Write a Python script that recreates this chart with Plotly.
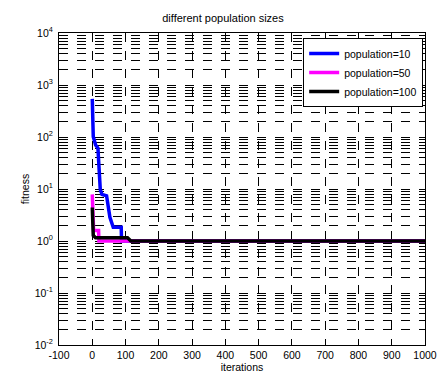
import plotly.graph_objects as go

# ---- data ----
iter_p10 = [0, 3, 10, 17, 24, 29, 43, 53, 63, 87, 88, 1000]
fit_p10 = [540, 101, 70, 61, 9.8, 7.9, 7.4, 2.85, 1.84, 1.84, 1.0, 1.0]

iter_p50 = [0, 2, 4, 10, 19, 20, 1000]
fit_p50 = [7.9, 4.0, 1.6, 1.6, 1.6, 1.0, 1.0]

iter_p100 = [0, 3, 10, 106, 116, 1000]
fit_p100 = [4.4, 1.28, 1.15, 1.15, 1.0, 1.0]

series_names = ["population=10", "population=50", "population=100"]
series_colors = ["#0000ff", "#ff00ff", "#000000"]

x_ticks = list(range(-100, 1001, 100))
y_tick_exps = [-2, -1, 0, 1, 2, 3, 4]

FONT = "Liberation Sans, Arial, Helvetica, sans-serif"
W, H = 446, 378

fig = go.Figure()
for xs, ys, name, col in zip([iter_p10, iter_p50, iter_p100],
                             [fit_p10, fit_p50, fit_p100],
                             series_names, series_colors):
    fig.add_trace(go.Scatter(x=xs, y=ys, mode="lines", name=name,
                             line=dict(color=col, width=3.5)))

minor_vals = [k * 10 ** e for e in y_tick_exps[:-1] for k in range(2, 10)]

fig.update_layout(
    width=W, height=H,
    margin=dict(l=59, r=9, t=33, b=29),
    paper_bgcolor="white", plot_bgcolor="white",
    font=dict(family=FONT, size=10.5, color="black"),
    title=dict(text="different population sizes", x=0.5, xanchor="center",
               y=1 - 18 / H, yanchor="middle", yref="container",
               font=dict(size=11, family=FONT)),
    legend=dict(x=0.995, y=0.984, xanchor="right", yanchor="top",
                bgcolor="white", bordercolor="black", borderwidth=1,
                font=dict(size=10.5, family=FONT), itemwidth=30,
                tracegroupgap=0),
    showlegend=True,
)

fig.update_xaxes(
    range=[-100, 1000], tickvals=x_ticks,
    ticktext=[str(v) for v in x_ticks],
    ticklabeloverflow="allow",
    showgrid=True, gridcolor="black", griddash="dash", gridwidth=1,
    zeroline=False, showline=True, linecolor="black", linewidth=1,
    mirror="allticks", ticks="inside", ticklen=4, tickcolor="black",
    title=dict(text="iterations", standoff=1, font=dict(size=10.5)),
)

fig.update_yaxes(
    type="log", range=[-2, 4],
    tickvals=[10 ** e for e in y_tick_exps],
    ticktext=["10<sup>%d</sup>" % e for e in y_tick_exps],
    ticklabelstandoff=3,
    showgrid=True, gridcolor="black", griddash="dash", gridwidth=1,
    zeroline=False, showline=True, linecolor="black", linewidth=1,
    mirror="allticks", ticks="inside", ticklen=4, tickcolor="black",
    minor=dict(tickvals=minor_vals, ticks="inside", ticklen=2,
               tickcolor="black", showgrid=True, gridcolor="black",
               griddash="dash", gridwidth=1),
    title=dict(text="fitness", standoff=3, font=dict(size=10.5)),
)

fig.write_html(
    "out.html",
    config={"displayModeBar": False},
    post_script="document.body.style.margin='0';"
                "document.body.style.overflow='hidden';",
)
